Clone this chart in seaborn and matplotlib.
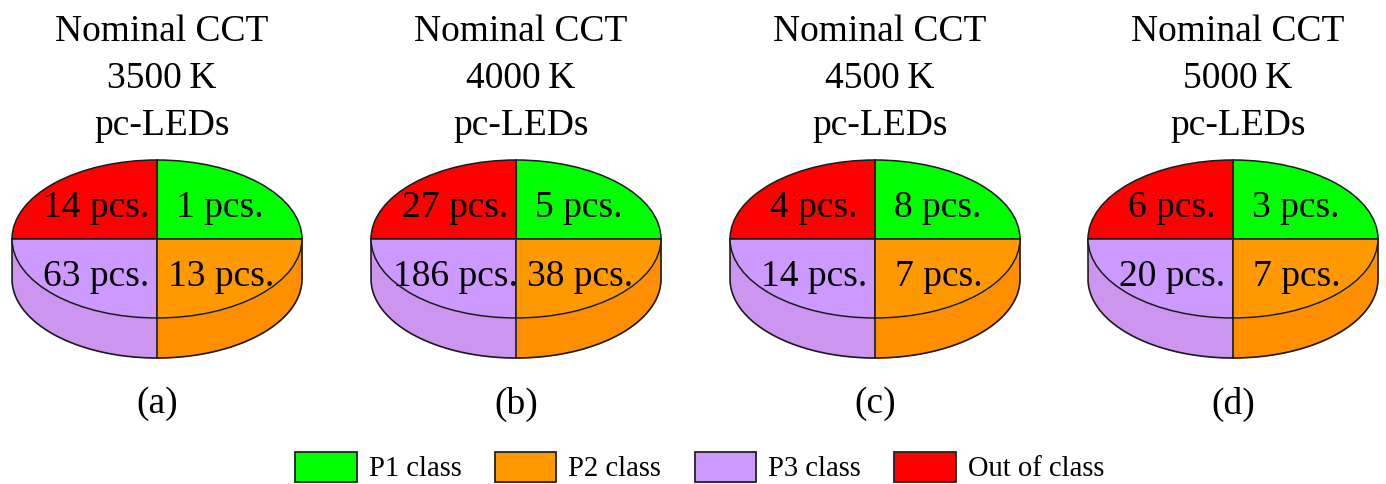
import numpy as np
import matplotlib
matplotlib.use("Agg")
import matplotlib.pyplot as plt
from matplotlib.patches import Patch
import seaborn as sns

sns.set_theme(style="white")
plt.rcParams['font.family'] = ['Liberation Serif', 'DejaVu Serif']

W, H = 1386, 484
classes = ["P1 class", "P2 class", "P3 class", "Out of class"]
top_colors = ["#00FF00", "#FF9900", "#CC99FF", "#FF0000"]
side_purple = "#CC96F0"
side_orange = "#FF8F00"
nominal_cct = ["3500\u2009K", "4000\u2009K", "4500\u2009K", "5000\u2009K"]
panel_letters = ["(a)", "(b)", "(c)", "(d)"]
p1_counts = [1, 5, 8, 3]
p2_counts = [13, 38, 7, 7]
p3_counts = [63, 186, 14, 20]
out_counts = [14, 27, 4, 6]
shares = [1, 1, 1, 1]  # every class drawn as an equal quarter
centers = [157, 516, 875, 1233]

RX, RY, DEPTH, CY = 145, 79, 40, 239
palette = sns.color_palette(top_colors)
fig = plt.figure(figsize=(W / 100, H / 100), dpi=100, facecolor="white")

def fx(px): return px / W
def fy(py): return 1 - py / H

EDGE = "#1a1a1a"
for i, cx in enumerate(centers):
    ax = fig.add_axes([fx(cx - RX - 2), fy(CY + RY + DEPTH + 2),
                       (2 * RX + 4) / W, (2 * RY + DEPTH + 4) / H])
    d = DEPTH / RY
    t = np.linspace(0, 1, 100)
    # side wall (lower half of the disc, pushed down)
    xr = np.sin(t * np.pi / 2)
    yu = -np.cos(np.arcsin(xr))
    ax.fill_between(xr, yu, yu - d, color=side_orange, lw=0, zorder=1)
    ax.fill_between(-xr, yu, yu - d, color=side_purple, lw=0, zorder=1)
    xx = np.sin(np.linspace(-np.pi / 2, np.pi / 2, 200))
    ax.plot(np.r_[-1, xx, 1], np.r_[0, -np.sqrt(1 - xx**2) - d, 0],
            color=EDGE, lw=1.2, zorder=2)
    ax.plot([0, 0], [-1, -1 - d], color=EDGE, lw=1.2, zorder=2)
    # top face
    ax.pie(shares, radius=1, center=(0, 0), startangle=0,
           colors=[palette[0], palette[3], palette[2], palette[1]],
           wedgeprops=dict(edgecolor=EDGE, linewidth=1.1, zorder=3),
           frame=True)
    ax.set_aspect("auto")
    ax.set_xlim(-1 - 2 / RX, 1 + 2 / RX)
    ax.set_ylim(-1 - d - 2 / RY, 1 + 2 / RY)
    ax.axis("off")
    for (lx, ly, n) in [(0.43, 0.39, p1_counts[i]), (-0.42, 0.39, out_counts[i]),
                        (-0.42, -0.48, p3_counts[i]), (0.44, -0.48, p2_counts[i])]:
        ax.text(lx, ly, f"{n} pcs.", ha="center", va="center",
                fontsize=27, color="black", zorder=5)
    tx = fx(cx + 5)
    fig.text(tx, fy(32), "Nominal CCT", ha="center", va="center", fontsize=27, color="black")
    fig.text(tx, fy(79), nominal_cct[i], ha="center", va="center", fontsize=27, color="black")
    fig.text(tx, fy(126), "pc-LEDs", ha="center", va="center", fontsize=27, color="black")
    fig.text(fx(cx), fy(404), panel_letters[i], ha="center", va="center", fontsize=27, color="black")

handles = [Patch(facecolor=c, edgecolor="#222222", linewidth=1.3) for c in top_colors]
fig.legend(handles, classes, loc="center left", bbox_to_anchor=(fx(295), fy(467)),
           ncol=4, frameon=False, fontsize=20.6, handlelength=2.15, handleheight=1.25,
           handletextpad=0.42, columnspacing=1.17, borderpad=0, borderaxespad=0,
           labelcolor="black")
fig.savefig("out.png", dpi=100, facecolor="white")
